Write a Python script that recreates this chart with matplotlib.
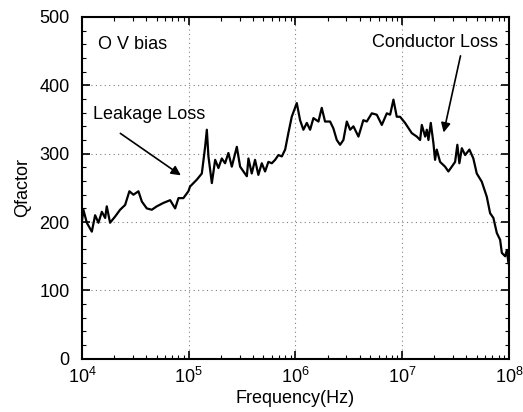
import numpy as np
import matplotlib
matplotlib.use("Agg")
import matplotlib.pyplot as plt
from matplotlib.ticker import MultipleLocator, LogLocator, NullFormatter

plt.rcParams["font.family"] = ["Liberation Sans", "DejaVu Sans"]

# Q factor vs frequency, 0 V bias
log_freq = [
    4.000, 4.012, 4.044, 4.091, 4.122, 4.153, 4.185, 4.216, 4.231, 4.262,
    4.309, 4.356, 4.403, 4.443, 4.481, 4.528, 4.560, 4.606, 4.653, 4.700,
    4.762, 4.825, 4.872, 4.903, 4.949, 4.996,
    5.012, 5.075, 5.122, 5.153, 5.169, 5.184, 5.216, 5.247, 5.278, 5.309,
    5.340, 5.371, 5.403, 5.450, 5.481, 5.512, 5.544, 5.559, 5.590, 5.621,
    5.652, 5.684, 5.715, 5.746, 5.778, 5.809, 5.840, 5.872, 5.903, 5.933,
    5.965, 6.012, 6.043,
    6.074, 6.106, 6.137, 6.168, 6.215, 6.246, 6.277, 6.324, 6.355, 6.387,
    6.418, 6.449, 6.481, 6.512, 6.543, 6.590, 6.636, 6.668, 6.715, 6.762,
    6.809, 6.856, 6.887, 6.918, 6.949,
    6.980, 7.027, 7.090, 7.137, 7.168, 7.184, 7.215, 7.231, 7.246, 7.268,
    7.293, 7.308, 7.324, 7.355, 7.402, 7.433, 7.465, 7.496, 7.517, 7.536,
    7.559, 7.590, 7.630, 7.667, 7.699, 7.746, 7.793, 7.824, 7.855, 7.887,
    7.918, 7.934, 7.965, 7.981, 7.996,
]
qfactor = [
    203, 218, 199, 186, 210, 199, 215, 206, 223, 199,
    208, 218, 225, 245, 240, 245, 230, 220, 218, 223,
    228, 232, 220, 235, 235, 245,
    252, 262, 271, 310, 335, 296, 257, 291, 279, 293,
    286, 301, 281, 310, 281, 274, 267, 293, 271, 291,
    269, 286, 274, 288, 286, 291, 298, 296, 306, 330,
    354, 374, 349,
    335, 345, 335, 352, 347, 367, 347, 347, 337, 320,
    313, 320, 347, 335, 340, 325, 349, 347, 359, 357,
    342, 359, 357, 379, 354,
    354, 345, 330, 325, 320, 342, 325, 335, 320, 345,
    315, 291, 306, 288, 281, 274, 281, 288, 313, 286,
    308, 298, 306, 293, 271, 259, 237, 213, 206, 184,
    174, 155, 150, 159, 140,
]

freq = 10.0 ** np.array(log_freq)

fig = plt.figure(figsize=(5.23, 4.12), dpi=100)
ax = fig.add_axes([0.157, 0.129, 0.816, 0.830])

ax.plot(freq, qfactor, color="black", lw=1.6)

ax.set_xscale("log")
ax.set_xlim(1e4, 1e8)
ax.set_ylim(0, 500)
ax.yaxis.set_major_locator(MultipleLocator(100))
ax.yaxis.set_minor_locator(MultipleLocator(20))
ax.xaxis.set_major_locator(LogLocator(base=10, numticks=10))
ax.xaxis.set_minor_locator(LogLocator(base=10, subs=np.arange(2, 10), numticks=20))
ax.xaxis.set_minor_formatter(NullFormatter())

ax.grid(True, which="major", linestyle=(0, (1, 3)), color="gray", lw=0.8)
ax.tick_params(which="both", direction="in", top=True, right=True, labelsize=13)
ax.tick_params(which="major", length=6, width=1.2)
ax.tick_params(which="minor", length=3, width=0.8)
ax.tick_params(axis="y", pad=9)
ax.tick_params(axis="x", pad=6)
for sp in ax.spines.values():
    sp.set_linewidth(1.5)

ax.set_xlabel("Frequency(Hz)", fontsize=13, labelpad=2)
ax.set_ylabel("Qfactor", fontsize=13, labelpad=6)

ax.text(10 ** 4.15, 460, "O V bias", fontsize=13, va="center", ha="left")
ax.text(10 ** 4.10, 357, "Leakage Loss", fontsize=13, va="center", ha="left")
ax.text(10 ** 7.90, 463, "Conductor Loss", fontsize=13, va="center", ha="right")

ax.annotate("", xy=(10 ** 4.947, 266), xytext=(10 ** 4.337, 332),
            arrowprops=dict(arrowstyle="-|>", color="black", lw=1.2,
                            mutation_scale=14))
ax.annotate("", xy=(10 ** 7.383, 327), xytext=(10 ** 7.552, 447),
            arrowprops=dict(arrowstyle="-|>", color="black", lw=1.2,
                            mutation_scale=14))

fig.savefig("out.png", dpi=100)
